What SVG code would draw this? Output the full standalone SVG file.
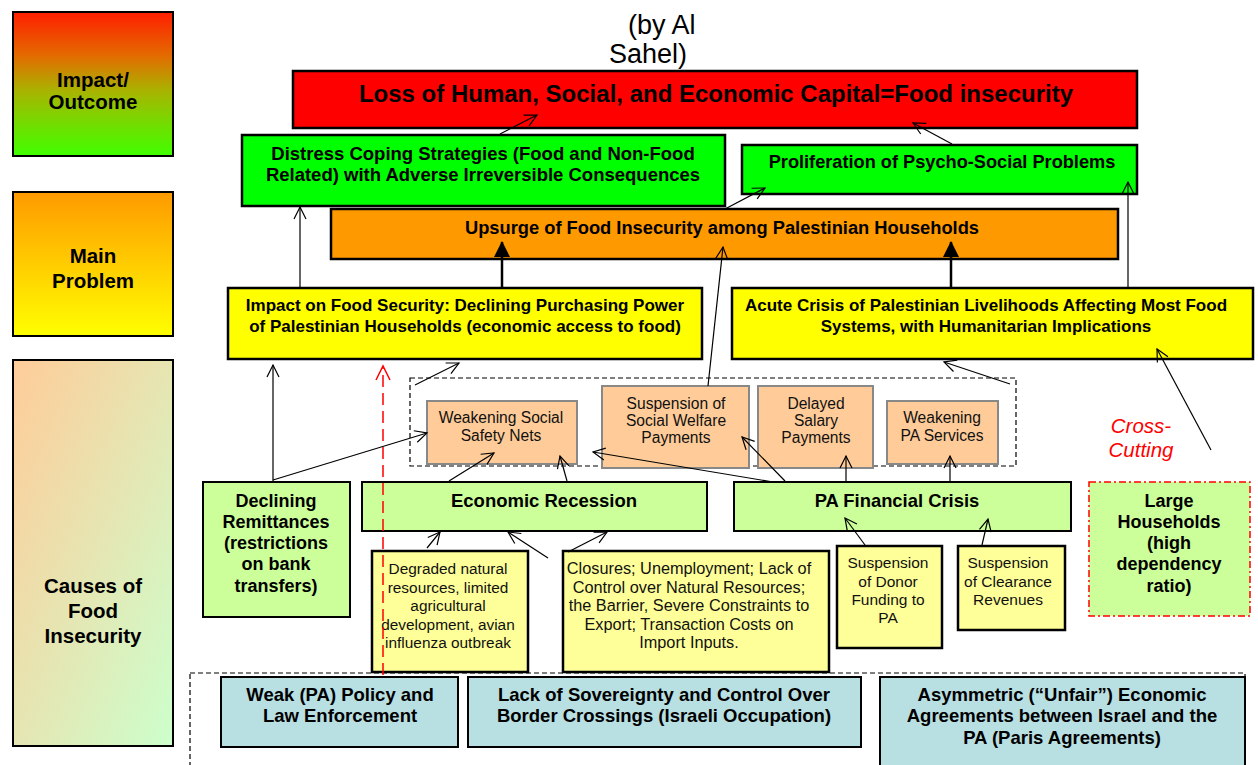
<svg xmlns="http://www.w3.org/2000/svg" width="1258" height="765" viewBox="0 0 1258 765">
<defs>
<linearGradient id="gImpact" x1="0" y1="0" x2="0" y2="1"><stop offset="0" stop-color="#ff1e00"/><stop offset="0.3" stop-color="#e46a00"/><stop offset="0.55" stop-color="#a8b400"/><stop offset="0.8" stop-color="#6ee000"/><stop offset="1" stop-color="#40ff00"/></linearGradient>
<linearGradient id="gMain" x1="0" y1="0" x2="0" y2="1"><stop offset="0" stop-color="#ff9a00"/><stop offset="1" stop-color="#ffff00"/></linearGradient>
<linearGradient id="gCause" x1="0" y1="0" x2="1" y2="1"><stop offset="0" stop-color="#ffcc99"/><stop offset="1" stop-color="#ccffcc"/></linearGradient>
<marker id="open" markerUnits="userSpaceOnUse" markerWidth="16" markerHeight="16" refX="13" refY="7" orient="auto"><path d="M1,1 L13,7 L1,13" fill="none" stroke="#000" stroke-width="1.2"/></marker>
<marker id="openRed" markerUnits="userSpaceOnUse" markerWidth="18" markerHeight="18" refX="15" refY="8" orient="auto"><path d="M1,1 L15,8 L1,15" fill="none" stroke="#ff0000" stroke-width="1.5"/></marker>
<marker id="solid" markerUnits="userSpaceOnUse" markerWidth="18" markerHeight="18" refX="15" refY="8" orient="auto"><path d="M0,0 L16,8 L0,16 Z" fill="#000"/></marker>
</defs>
<style>
.b{font-family:"Liberation Sans",Arial,sans-serif;font-weight:bold;text-anchor:middle;fill:#000}
.n{font-family:"Liberation Sans",Arial,sans-serif;text-anchor:middle;fill:#111}
.box{stroke:#000;stroke-width:2.5}
.peach{fill:#ffcc99;stroke:#888;stroke-width:2}
.lg{fill:#ccff99;stroke:#000;stroke-width:2}
.ly{fill:#ffff99;stroke:#000;stroke-width:2.5}
.bl{fill:#b8dfe2;stroke:#000;stroke-width:2}
.c{fill:none;stroke:#000;stroke-width:1.2;marker-end:url(#open)}
.t{fill:none;stroke:#000;stroke-width:2.5;marker-end:url(#solid)}
</style>
<rect width="1258" height="765" fill="#fff"/>

<g id="legend-impact"><rect x="13" y="12" width="160" height="144" fill="url(#gImpact)" stroke="#000" stroke-width="2"/><text class="b" font-size="20.5"><tspan x="93" y="87">Impact/</tspan><tspan x="93" y="109">Outcome</tspan></text></g>
<g id="legend-main"><rect x="13" y="192" width="160" height="144" fill="url(#gMain)" stroke="#000" stroke-width="2"/><text class="b" font-size="20.5"><tspan x="93" y="263">Main</tspan><tspan x="93" y="288">Problem</tspan></text></g>
<g id="legend-causes"><rect x="13" y="360" width="160" height="386" fill="url(#gCause)" stroke="#000" stroke-width="2"/><text class="b" font-size="20.5"><tspan x="93" y="593">Causes of</tspan><tspan x="93" y="618">Food</tspan><tspan x="93" y="643">Insecurity</tspan></text></g>

<g id="author"><text font-family="Liberation Sans,Arial,sans-serif" font-size="27" fill="#000"><tspan x="628" y="34">(by Al</tspan><tspan x="609" y="63">Sahel)</tspan></text></g>

<g id="containers">
<rect x="410" y="378" width="606" height="88" fill="none" stroke="#000" stroke-width="1.2" stroke-dasharray="5,3"/>
<rect x="190" y="673" width="1055" height="100" fill="none" stroke="#000" stroke-width="1.2" stroke-dasharray="5,3"/>
</g>

<g id="loss"><rect class="box" x="293" y="71" width="844" height="57" fill="#ff0000"/><text class="b" x="716" y="102" font-size="24">Loss of Human, Social, and Economic Capital=Food insecurity</text></g>
<g id="distress"><rect class="box" x="242" y="135" width="483" height="71" fill="#00ff00"/><text class="b" font-size="18.5"><tspan x="483" y="160">Distress Coping Strategies (Food and Non-Food</tspan><tspan x="483" y="181">Related) with Adverse Irreversible Consequences</tspan></text></g>
<g id="proliferation"><rect class="box" x="742" y="145" width="395" height="49" fill="#00ff00"/><text class="b" x="942" y="168" font-size="18.2">Proliferation of Psycho-Social Problems</text></g>
<g id="upsurge"><rect class="box" x="331" y="209" width="787" height="50" fill="#ff9900"/><text class="b" x="722" y="234" font-size="18.3">Upsurge of Food Insecurity among Palestinian Households</text></g>
<g id="impact-fs"><rect class="box" x="228" y="288" width="474" height="71" fill="#ffff00"/><text class="b" font-size="17"><tspan x="465" y="311">Impact on Food Security: Declining Purchasing Power</tspan><tspan x="465" y="332">of Palestinian Households (economic access to food)</tspan></text></g>
<g id="acute"><rect class="box" x="732" y="288" width="521" height="71" fill="#ffff00"/><text class="b" font-size="17"><tspan x="986" y="311">Acute Crisis of Palestinian Livelihoods Affecting Most Food</tspan><tspan x="986" y="332">Systems, with Humanitarian Implications</tspan></text></g>

<g id="safety-nets"><rect class="peach" x="427" y="401" width="150" height="63"/><text class="n" font-size="15.6"><tspan x="501" y="423">Weakening Social</tspan><tspan x="501" y="441">Safety Nets</tspan></text></g>
<g id="welfare"><rect class="peach" x="602" y="386" width="147" height="82"/><text class="n" font-size="15.6"><tspan x="676" y="409">Suspension of</tspan><tspan x="676" y="426">Social Welfare</tspan><tspan x="676" y="443">Payments</tspan></text></g>
<g id="salary"><rect class="peach" x="758" y="386" width="115" height="82"/><text class="n" font-size="15.6"><tspan x="816" y="409">Delayed</tspan><tspan x="816" y="426">Salary</tspan><tspan x="816" y="443">Payments</tspan></text></g>
<g id="pa-services"><rect class="peach" x="887" y="401" width="111" height="63"/><text class="n" font-size="15.6"><tspan x="942" y="423">Weakening</tspan><tspan x="942" y="441">PA Services</tspan></text></g>

<g id="cross-cutting"><text font-family="Liberation Sans,Arial,sans-serif" font-style="italic" font-size="20.5" fill="#ff0000" text-anchor="middle"><tspan x="1141" y="433">Cross-</tspan><tspan x="1141" y="457">Cutting</tspan></text></g>

<g id="remittances"><rect class="lg" x="203" y="482" width="147" height="135"/><text class="b" font-size="18"><tspan x="276" y="507">Declining</tspan><tspan x="276" y="528">Remittances</tspan><tspan x="276" y="549">(restrictions</tspan><tspan x="276" y="570">on bank</tspan><tspan x="276" y="592">transfers)</tspan></text></g>
<g id="recession"><rect class="lg" x="362" y="482" width="345" height="49"/><text class="b" x="544" y="507" font-size="18.5">Economic Recession</text></g>
<g id="pa-crisis"><rect class="lg" x="734" y="482" width="337" height="49"/><text class="b" x="897" y="507" font-size="18.4">PA Financial Crisis</text></g>
<g id="households"><rect x="1089" y="482" width="161" height="134" fill="#ccff99" stroke="#ff0000" stroke-width="1.5" stroke-dasharray="7,3,2,3"/><text class="b" font-size="18"><tspan x="1169" y="507">Large</tspan><tspan x="1169" y="528">Households</tspan><tspan x="1169" y="549">(high</tspan><tspan x="1169" y="570">dependency</tspan><tspan x="1169" y="592">ratio)</tspan></text></g>

<g id="degraded"><rect class="ly" x="372" y="551" width="156" height="121"/><text class="n" font-size="15.4"><tspan x="448" y="574">Degraded natural</tspan><tspan x="448" y="593">resources, limited</tspan><tspan x="448" y="611">agricultural</tspan><tspan x="448" y="630">development, avian</tspan><tspan x="448" y="648">influenza outbreak</tspan></text></g>
<g id="closures"><rect class="ly" x="563" y="551" width="266" height="121"/><text class="n" font-size="16.3"><tspan x="689" y="574">Closures; Unemployment; Lack of</tspan><tspan x="689" y="593">Control over Natural Resources;</tspan><tspan x="689" y="611">the Barrier, Severe Constraints to</tspan><tspan x="689" y="630">Export; Transaction Costs on</tspan><tspan x="689" y="648">Import Inputs.</tspan></text></g>
<g id="donor"><rect class="ly" x="837" y="546" width="105" height="102"/><text class="n" font-size="15.5"><tspan x="888" y="568">Suspension</tspan><tspan x="888" y="587">of Donor</tspan><tspan x="888" y="605">Funding to</tspan><tspan x="888" y="623">PA</tspan></text></g>
<g id="clearance"><rect class="ly" x="958" y="546" width="107" height="84"/><text class="n" font-size="15.5"><tspan x="1008" y="568">Suspension</tspan><tspan x="1008" y="587">of Clearance</tspan><tspan x="1008" y="605">Revenues</tspan></text></g>

<g id="weak-pa"><rect class="bl" x="221" y="677" width="237" height="70"/><text class="b" font-size="18.5"><tspan x="340" y="701">Weak (PA) Policy and</tspan><tspan x="340" y="722">Law Enforcement</tspan></text></g>
<g id="sovereignty"><rect class="bl" x="468" y="677" width="393" height="70"/><text class="b" font-size="18.5"><tspan x="664" y="701">Lack of Sovereignty and Control Over</tspan><tspan x="664" y="722">Border Crossings (Israeli Occupation)</tspan></text></g>
<g id="asymmetric"><rect class="bl" x="880" y="677" width="365" height="95"/><text class="b" font-size="18.5"><tspan x="1062" y="701">Asymmetric (“Unfair”) Economic</tspan><tspan x="1062" y="722">Agreements between Israel and the</tspan><tspan x="1062" y="744">PA (Paris Agreements)</tspan></text></g>

<g id="connectors">
<line class="c" x1="500" y1="134" x2="537" y2="115"/>
<line class="c" x1="952" y1="144" x2="913" y2="123"/>
<line class="c" x1="725" y1="209" x2="765" y2="188"/>
<line class="c" x1="300" y1="288" x2="300" y2="207"/>
<line class="t" x1="502" y1="288" x2="502" y2="242"/>
<line class="t" x1="951" y1="288" x2="951" y2="242"/>
<line class="c" x1="1128" y1="288" x2="1128" y2="182"/>
<line class="c" x1="708" y1="386" x2="723" y2="247"/>
<line class="c" x1="415" y1="385" x2="459" y2="363"/>
<line class="c" x1="1010" y1="384" x2="944" y2="362"/>
<line class="c" x1="1211" y1="450" x2="1157" y2="349"/>
<line class="c" x1="273" y1="482" x2="273" y2="365"/>
<line class="c" x1="273" y1="480" x2="427" y2="433"/>
<line x1="383" y1="675" x2="383" y2="366" stroke="#ff0000" stroke-width="1.5" stroke-dasharray="12,6" marker-end="url(#openRed)"/>
<line class="c" x1="449" y1="481" x2="494" y2="453"/>
<line class="c" x1="567" y1="481" x2="560" y2="456"/>
<line class="c" x1="773" y1="482" x2="593" y2="452"/>
<line class="c" x1="785" y1="481" x2="742" y2="437"/>
<line class="c" x1="846" y1="481" x2="846" y2="456"/>
<line class="c" x1="950" y1="481" x2="950" y2="456"/>
<line class="c" x1="427" y1="548" x2="440" y2="532"/>
<line class="c" x1="548" y1="558" x2="508" y2="532"/>
<line class="c" x1="568" y1="552" x2="607" y2="532"/>
<line class="c" x1="865" y1="545" x2="845" y2="518"/>
<line class="c" x1="982" y1="545" x2="988" y2="519"/>
</g>
</svg>
